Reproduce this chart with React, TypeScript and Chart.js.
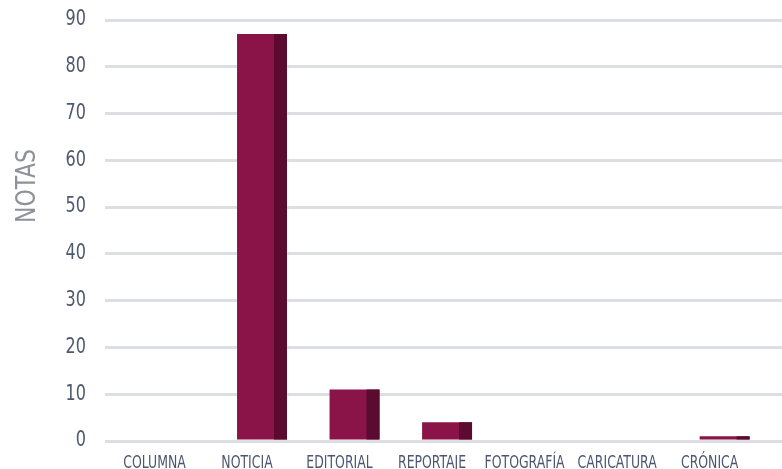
import React, { useEffect, useRef } from "react";
import { Chart, registerables } from "chart.js";

Chart.register(...registerables);

const categories = ["COLUMNA", "NOTICIA", "EDITORIAL", "REPORTAJE", "FOTOGRAFÍA", "CARICATURA", "CRÓNICA"];
const notas = [0, 87, 11, 4, 0, 0, 1];
const yTicks = [0, 10, 20, 30, 40, 50, 60, 70, 80, 90];
const yTitle = "NOTAS";

const FONT = "'Liberation Sans Narrow', 'DejaVu Sans Condensed', 'Arial Narrow', sans-serif";
const FRONT = "#8a1447";
const SIDE = "#5b0b30";

const sidePlugin = {
  id: "sideFace",
  afterDatasetsDraw(chart: any) {
    const ctx = chart.ctx;
    const meta = chart.getDatasetMeta(0);
    ctx.save();
    meta.data.forEach((bar: any) => {
      const { x, y, base, width } = bar.getProps(["x", "y", "base", "width"], true);
      if (Math.abs(base - y) < 0.5) return;
      const sw = width * 0.26;
      ctx.fillStyle = SIDE;
      ctx.fillRect(x + width / 2 - sw, Math.min(y, base), sw, Math.abs(base - y));
    });
    ctx.restore();
  },
};

// Narrow text labels drawn at the scales' own pixel positions
const labelsPlugin = {
  id: "narrowLabels",
  afterDraw(chart: any) {
    const ctx = chart.ctx;
    const xs = chart.scales.x;
    const ys = chart.scales.y;
    const area = chart.chartArea;
    ctx.save();
    // x category labels
    ctx.font = `18px ${FONT}`;
    ctx.fillStyle = "#4b5670";
    ctx.textAlign = "center";
    ctx.textBaseline = "alphabetic";
    categories.forEach((c, i) => {
      const px = xs.getPixelForValue(i) - 15;
      ctx.save();
      ctx.translate(px, area.bottom + 27);
      ctx.scale(0.77, 1);
      ctx.fillText(c, 0, 0);
      ctx.restore();
    });
    // y tick labels
    ctx.font = `20.5px ${FONT}`;
    ctx.fillStyle = "#4e586e";
    ctx.textAlign = "right";
    ctx.textBaseline = "middle";
    yTicks.forEach((v) => {
      const py = ys.getPixelForValue(v);
      ctx.save();
      ctx.translate(area.left - 19, py);
      ctx.scale(0.87, 1);
      ctx.fillText(String(v), 0, 0);
      ctx.restore();
    });
    // y title
    ctx.translate(28, 186);
    ctx.rotate(-Math.PI / 2);
    ctx.scale(0.9, 1);
    ctx.font = `27px ${FONT}`;
    ctx.fillStyle = "#8d9199";
    ctx.textAlign = "center";
    ctx.textBaseline = "middle";
    ctx.fillText(yTitle, 0, 0);
    ctx.restore();
  },
};

export default function App() {
  const ref = useRef<HTMLCanvasElement>(null);
  useEffect(() => {
    document.body.style.margin = "0";
    const chart = new Chart(ref.current!, {
      type: "bar",
      data: {
        datasets: [
          {
            data: categories.map((c, i) => ({ x: i, y: notas[i] })),
            backgroundColor: FRONT,
            barPercentage: 0.54,
            categoryPercentage: 1,
          },
        ],
      },
      options: {
        animation: false,
        responsive: true,
        maintainAspectRatio: false,
        layout: { padding: { top: 20, right: 0, left: 0, bottom: 0 } },
        plugins: { legend: { display: false }, tooltip: { enabled: false } },
        scales: {
          x: {
            type: "linear",
            offset: false,
            min: -0.697,
            max: 6.62,
            grid: { display: false },
            border: { display: false },
            afterBuildTicks(scale: any) {
              scale.ticks = categories.map((c, i) => ({ value: i }));
            },
            afterFit(scale: any) {
              scale.height = 28;
            },
            ticks: { display: false },
          },
          y: {
            min: 0,
            max: 90,
            afterBuildTicks(scale: any) {
              scale.ticks = yTicks.map((v) => ({ value: v }));
            },
            afterFit(scale: any) {
              scale.width = 105;
            },
            grid: { color: "#dcdee3", lineWidth: 3, drawTicks: false },
            border: { display: false },
            ticks: { display: false },
          },
        },
      },
      plugins: [sidePlugin, labelsPlugin],
    } as any);
    return () => chart.destroy();
  }, []);
  return (
    <div style={{ width: 782, height: 469, position: "relative" }}>
      <canvas ref={ref} />
    </div>
  );
}
